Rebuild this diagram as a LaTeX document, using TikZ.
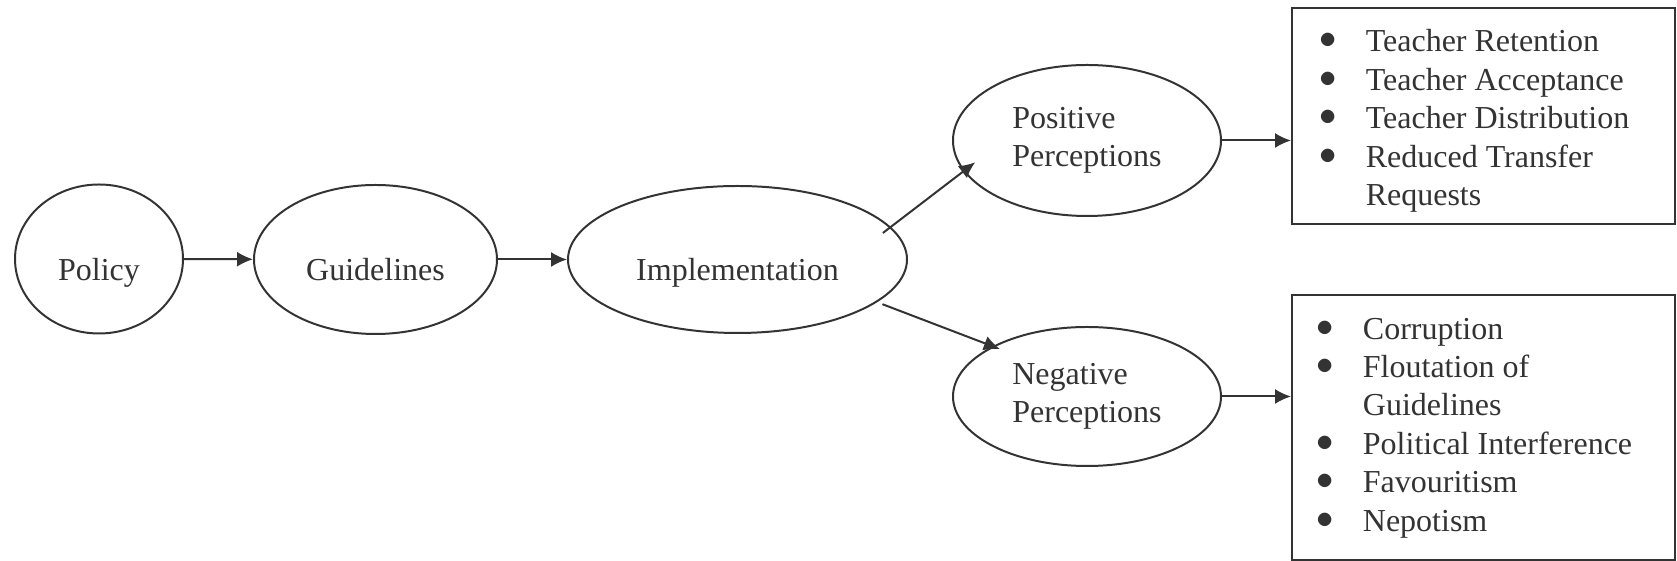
\documentclass[tikz,border=0pt]{standalone}
\usepackage{fontspec}
\setmainfont{Liberation Serif}
\usetikzlibrary{shapes.geometric,arrows.meta}

\tikzset{
	oval/.style={ellipse, draw, line width=0.35mm, inner sep=0pt},
	low/.style={text height=21.5pt, text depth=0pt},
	listbox/.style={rectangle, draw, line width=0.35mm, inner sep=0pt, minimum width=191.5pt},
	arrow/.style={line width=0.35mm, -{Latex[length=8pt,width=7.5pt]}},
}
\newcommand{\dotmark}{\raisebox{1.5pt}{$\bullet$}}
\newcommand{\bulletlist}[1]{\begin{tabular}{@{}p{23pt}@{}l@{\hspace{9pt}}}#1\end{tabular}}

\begin{document}
\begin{tikzpicture}[x=0.5pt, y=0.5pt, font=\fontsize{16pt}{19.2pt}\selectfont, color=black!80]
		%%%%% START %%%%%
		\useasboundingbox (0, 0) rectangle (1677, 561);

		\node[oval, low, minimum width=84pt, minimum height=74.5pt] (policy) at (99, 302) {Policy};
		\node[oval, low, minimum width=121.5pt, minimum height=74.5pt] (guide) at (375.5, 301.5) {Guidelines};
		\node[oval, low, minimum width=169.5pt, minimum height=73.5pt] (impl) at (737.5, 301.5) {Implementation};

		\node[oval, align=left, minimum width=134pt, minimum height=75.5pt] (pos) at (1087, 420.5) {Positive\\Perceptions};
		\node[oval, align=left, minimum width=134pt, minimum height=69.5pt] (neg) at (1087, 164.5) {Negative\\Perceptions};

		\node[listbox, minimum height=108pt] (gains) at (1483.5, 445) {\raisebox{-2.5pt}[\height][\depth]{\bulletlist{
			\dotmark & Teacher Retention\\
			\dotmark & Teacher Acceptance\\
			\dotmark & Teacher Distribution\\
			\dotmark & Reduced Transfer\\
			& Requests}}};
		\node[listbox, minimum height=132.5pt] (harms) at (1483.5, 133.5) {\bulletlist{
			\dotmark & Corruption\\
			\dotmark & Floutation of\\
			& Guidelines\\
			\dotmark & Political Interference\\
			\dotmark & Favouritism\\
			\dotmark & Nepotism}};

		\draw[arrow] (policy) -- (guide);
		\draw[arrow] (guide) -- (impl);
		\draw[arrow, shorten <=-5pt, shorten >=-7.4pt] (impl.12) -- (pos.194);
		\draw[arrow, shorten <=2.8pt, shorten >=-4pt] (impl.-17) -- (neg.152);
		\draw[arrow] (pos) -- (pos -| gains.west);
		\draw[arrow] (neg) -- (neg -| harms.west);

		%%%%% END %%%%%
\end{tikzpicture}
\end{document}
